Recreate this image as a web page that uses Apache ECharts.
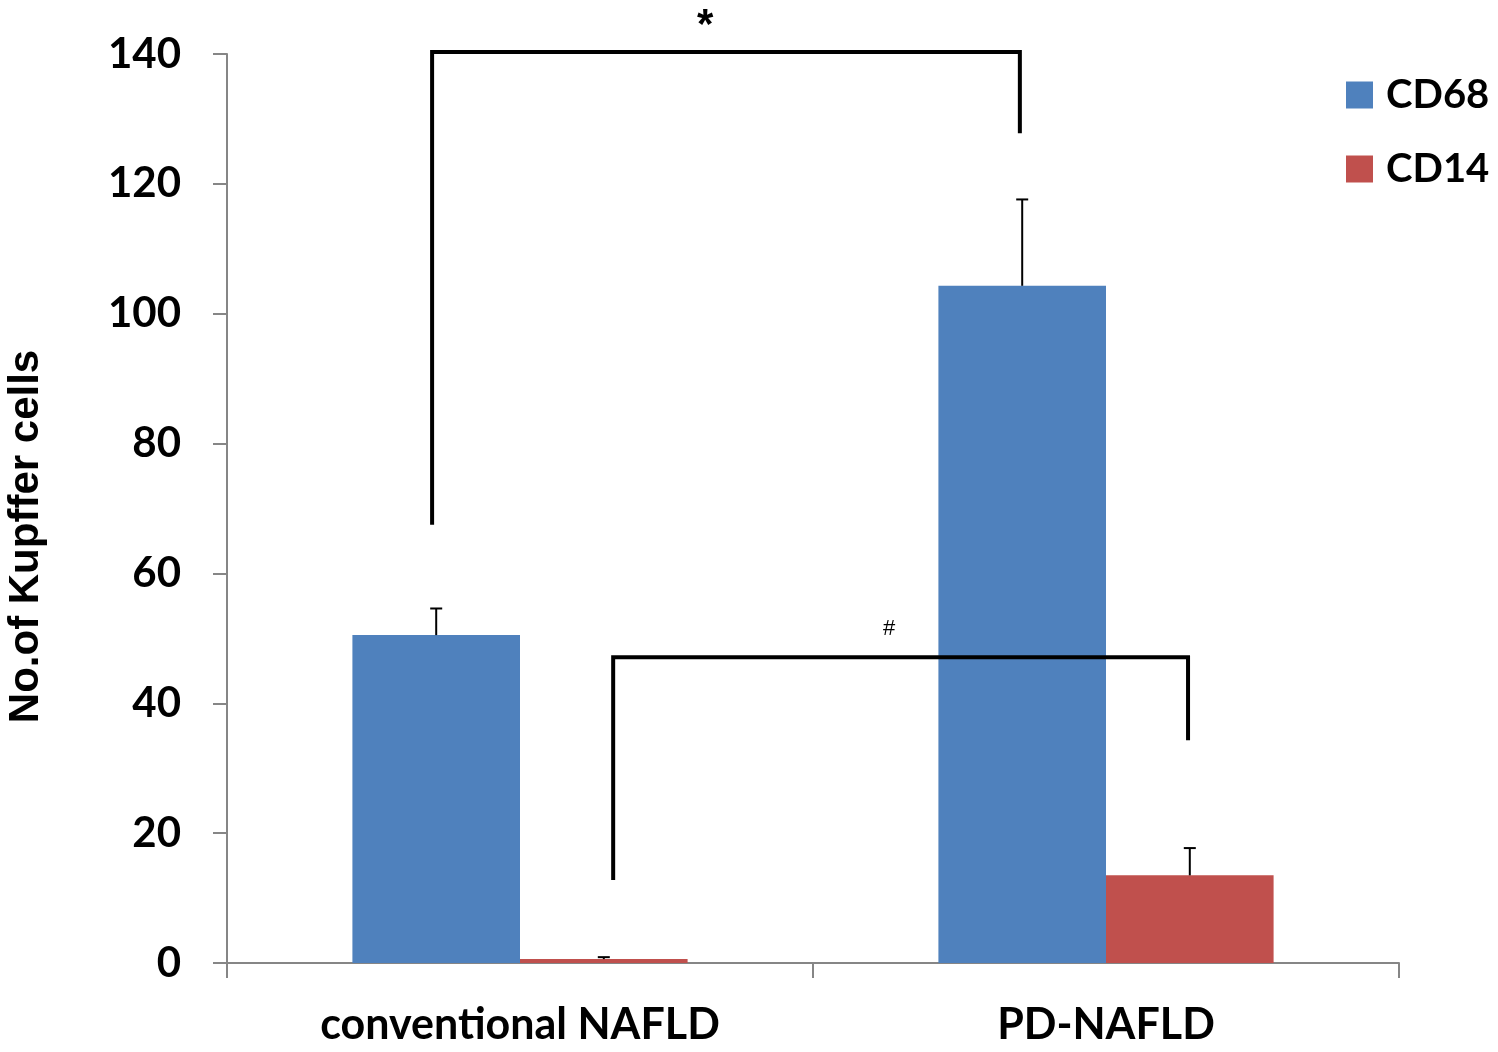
<!DOCTYPE html>
<html>
<head>
<meta charset="utf-8">
<script src="https://cdn.jsdelivr.net/npm/echarts@6/dist/echarts.min.js"></script>
<style>html,body{margin:0;padding:0;background:#fff}#c{width:1498px;height:1052px}</style>
</head>
<body>
<div id="c"></div>
<script>
const categories = ['conventional NAFLD', 'PD-NAFLD'];
const seriesNames = ['CD68', 'CD14'];
const cd68 = [50.5, 104.3];
const cd14 = [0.6, 13.5];
const cd68Upper = [54.6, 117.6];
const cd14Upper = [0.9, 17.7];
const yTicks = [0, 20, 40, 60, 80, 100, 120, 140];
// significance brackets: [xLeft, yLeftEnd, xRight, yTop, yRightEnd] in category units (0..2)
const brackets = [
  [0.350, 67.5, 1.353, 140.3, 127.8],
  [0.659, 12.8, 1.640, 47.1, 34.3]
];
// significance marks: [x, y, text]
const marks = [
  [0.816, 144.2, '*'],
  [1.130, 51.5, '#']
];

const BAR_W = 0.286;
const errData = [];
cd68.forEach((v, i) => errData.push([i, 0, v, cd68Upper[i]]));
cd14.forEach((v, i) => errData.push([i, 1, v, cd14Upper[i]]));

const chart = echarts.init(document.getElementById('c'));
chart.setOption({
  animation: false,
  backgroundColor: '#fff',
  color: ['#4F81BD', '#C0504D'],
  grid: { left: 227, right: 99, top: 54, bottom: 89, containLabel: false, outerBoundsMode: 'none' },
  legend: {
    orient: 'vertical',
    left: 1346, top: 74, padding: 0,
    itemWidth: 27, itemHeight: 27, itemGap: 32,
    icon: 'rect',
    textStyle: { fontFamily: 'Lato', fontWeight: 'bold', fontSize: 40, lineHeight: 42, color: '#000', padding: [0, 0, 0, 8] },
    data: seriesNames
  },
  xAxis: [{
    type: 'category',
    data: categories,
    axisLine: { lineStyle: { color: '#868686', width: 2 } },
    axisTick: { show: true, alignWithLabel: false, interval: 0, length: 15, lineStyle: { color: '#868686', width: 2 } },
    axisLabel: { fontFamily: 'Lato', fontWeight: 'bold', fontSize: 43, color: '#000', margin: 41 }
  }, {
    type: 'value', min: 0, max: 2, show: false
  }],
  yAxis: {
    type: 'value', min: 0, max: 140, interval: 20,
    name: 'No.of Kupffer cells',
    nameLocation: 'middle',
    nameGap: 180,
    nameTextStyle: { fontFamily: 'Liberation Sans', fontWeight: 'bold', fontSize: 42, color: '#000', padding: [0, 56, 0, 0] },
    axisLine: { show: true, lineStyle: { color: '#868686', width: 2 } },
    axisTick: { show: true, length: 14, lineStyle: { color: '#868686', width: 2 } },
    splitLine: { show: false },
    axisLabel: {
      fontFamily: 'Lato', fontWeight: 'bold', fontSize: 42, color: '#000', margin: 46,
      formatter: v => yTicks.includes(v) ? String(v) : ''
    }
  },
  series: [
    { name: 'CD68', type: 'bar', data: cd68, barWidth: (BAR_W * 100) + '%', barGap: '0%' },
    { name: 'CD14', type: 'bar', data: cd14, barWidth: (BAR_W * 100) + '%', barGap: '0%' },
    {
      type: 'custom', name: 'err', data: errData, z: 5, silent: true,
      encode: { x: 0, y: 3 },
      renderItem: (params, api) => {
        const cat = api.value(0), s = api.value(1);
        const lo = api.coord([cat, api.value(2)]);
        const hi = api.coord([cat, api.value(3)]);
        const band = api.size([1, 0])[0];
        const x = lo[0] + (s === 0 ? -1 : 1) * band * BAR_W / 2;
        const st = { stroke: '#000', lineWidth: 2 };
        return { type: 'group', children: [
          { type: 'line', shape: { x1: x, y1: lo[1], x2: x, y2: hi[1] }, style: st },
          { type: 'line', shape: { x1: x - 6, y1: hi[1], x2: x + 6, y2: hi[1] }, style: st }
        ]};
      }
    },
    {
      type: 'custom', name: 'brackets', xAxisIndex: 1, data: brackets, z: 6, silent: true, clip: false,
      renderItem: (params, api) => {
        const a = api.coord([api.value(0), api.value(1)]);
        const b = api.coord([api.value(0), api.value(3)]);
        const c = api.coord([api.value(2), api.value(3)]);
        const d = api.coord([api.value(2), api.value(4)]);
        return { type: 'polyline', shape: { points: [a, b, c, d] }, style: { stroke: '#000', lineWidth: 4, fill: null, lineJoin: 'miter' } };
      }
    },
    {
      type: 'custom', name: 'marks', xAxisIndex: 1, data: marks, z: 7, silent: true, clip: false,
      renderItem: (params, api) => {
        const p = api.coord([api.value(0), api.value(1)]);
        const t = marks[params.dataIndex][2];
        return { type: 'text', x: p[0], y: p[1], style: {
          text: t, align: 'center', verticalAlign: 'middle',
          fontFamily: 'Liberation Sans', fontWeight: t === '*' ? 'bold' : 'normal',
          fontSize: t === '*' ? 42 : 22, fill: '#000'
        }};
      }
    }
  ]
});
</script>
</body>
</html>
